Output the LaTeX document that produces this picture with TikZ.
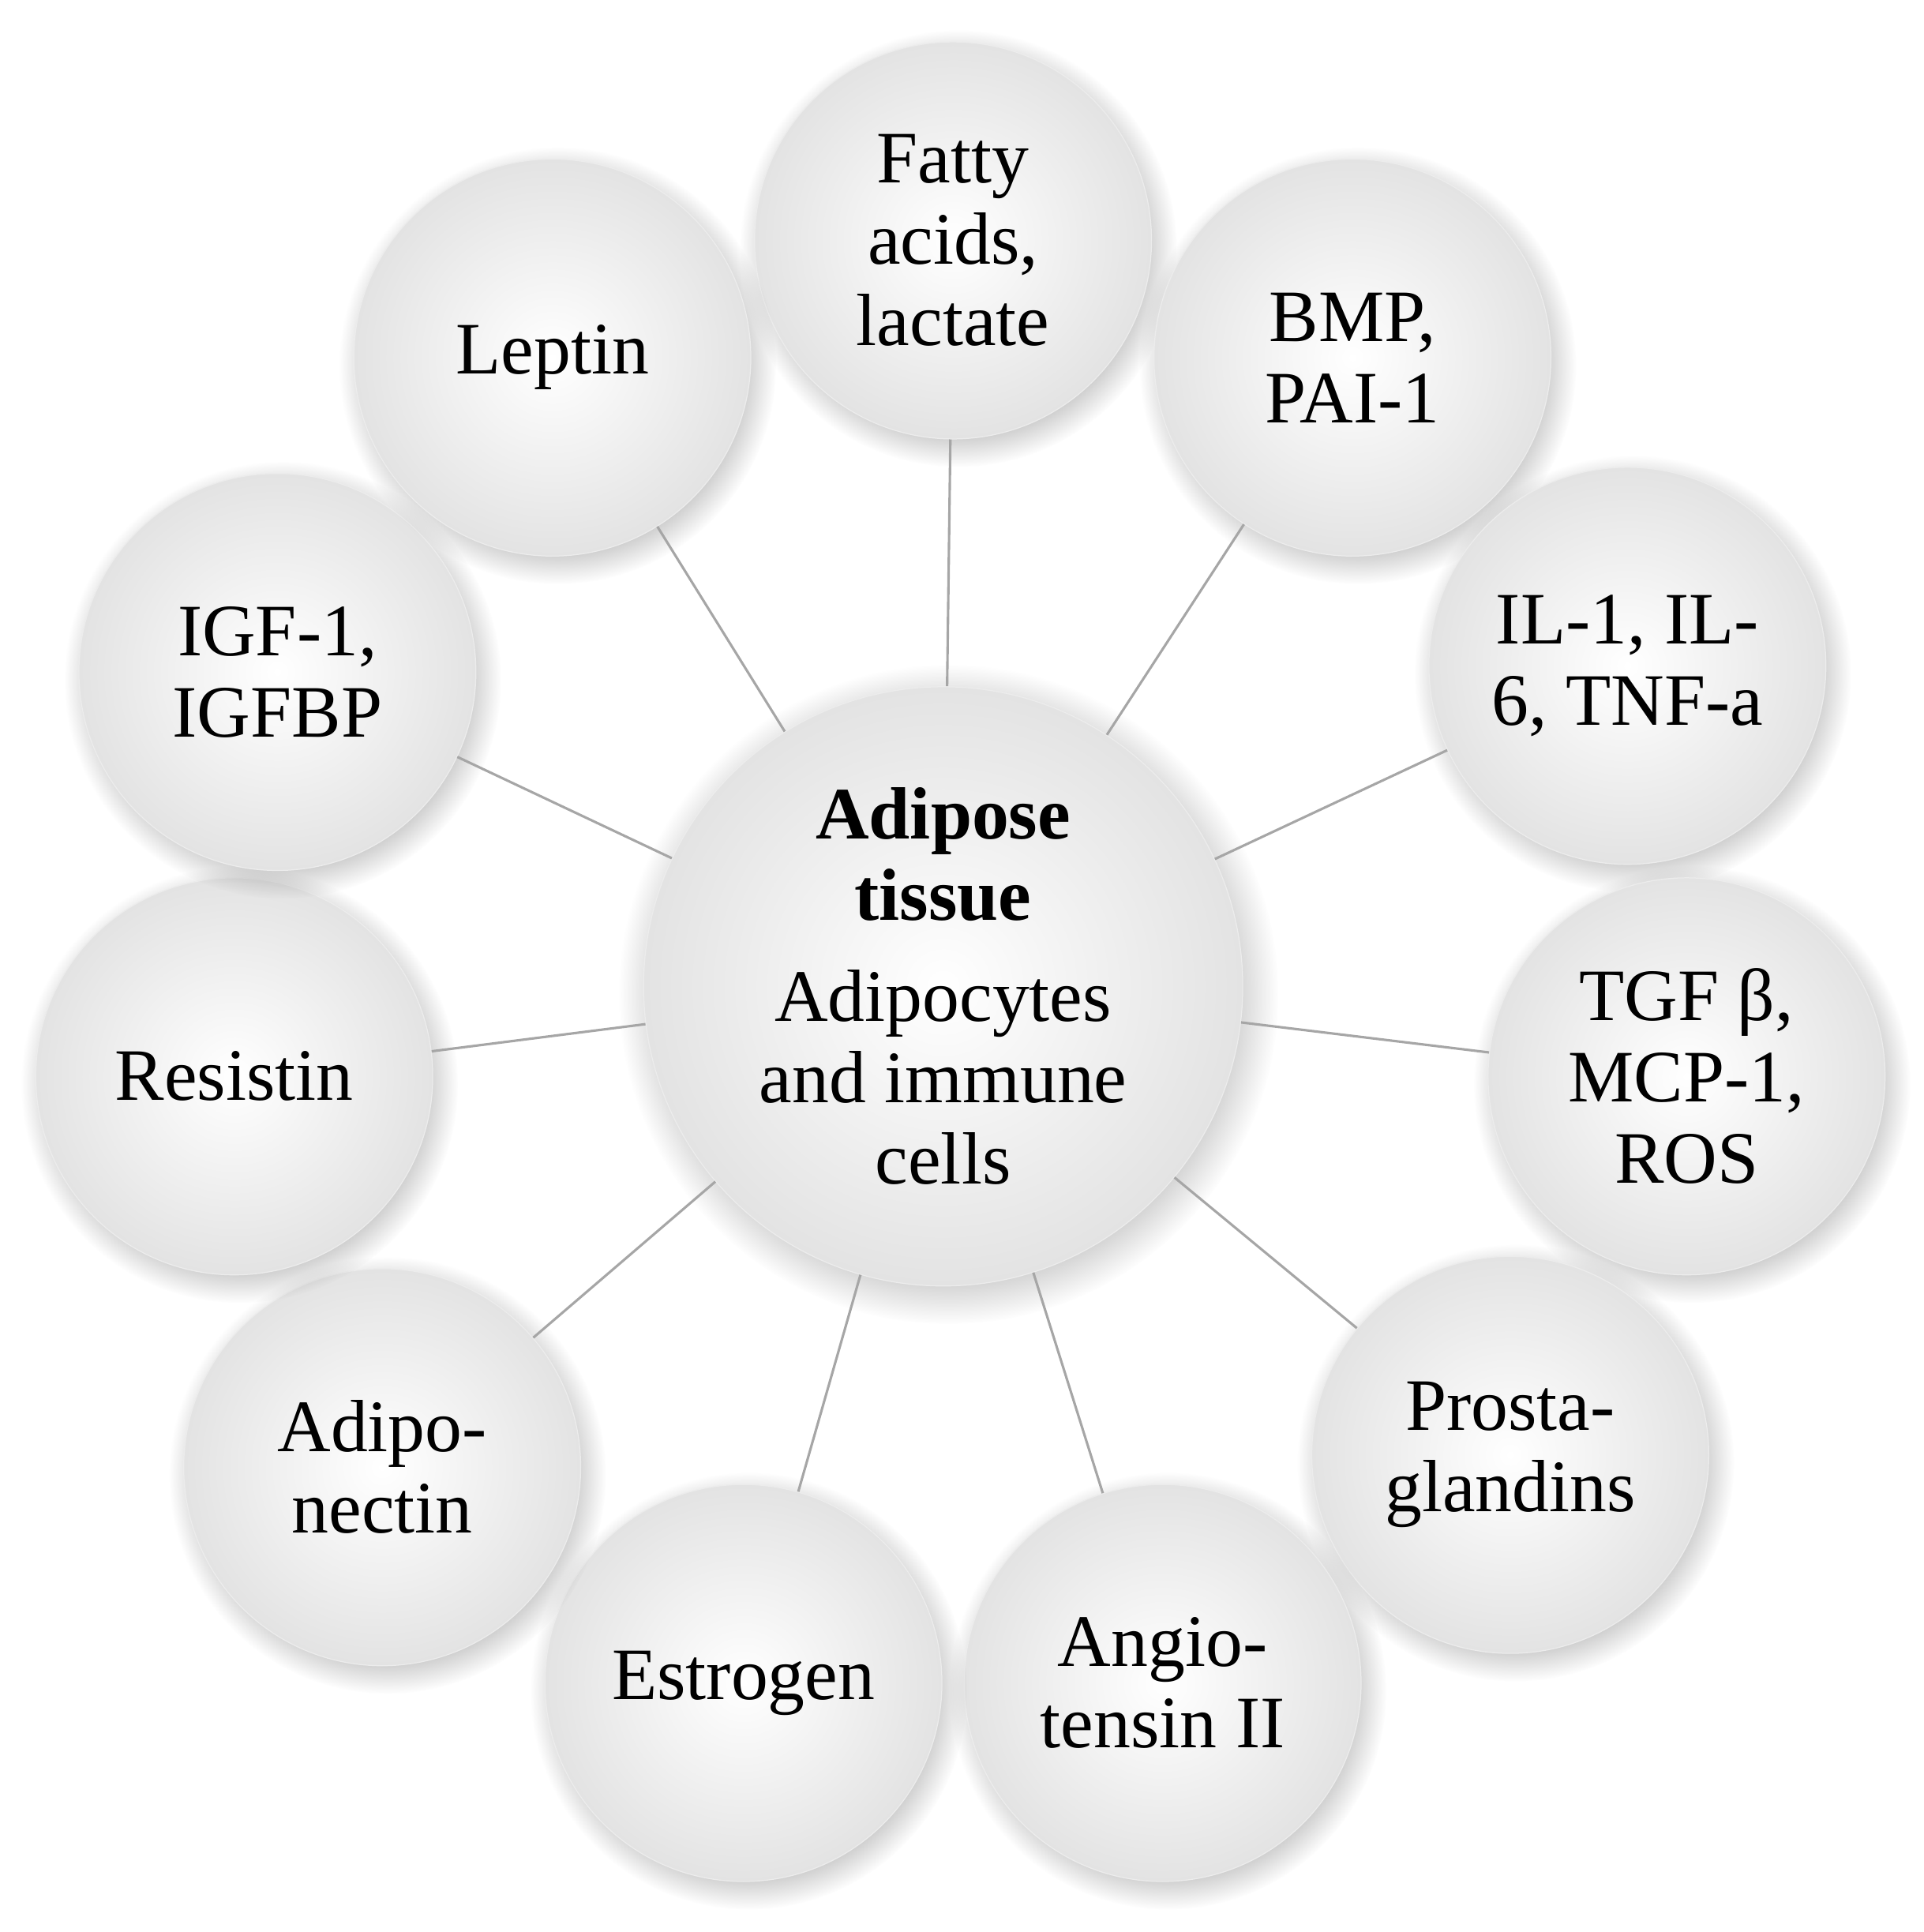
\documentclass[tikz,border=0pt]{standalone}
\usepackage{fontspec}
\setmainfont{Liberation Serif}
\usetikzlibrary{shadows}
\begin{document}
\begin{tikzpicture}[x=0.5pt,y=-0.5pt,
  ball/.style={circle,minimum size=#1*0.5pt,inner sep=0pt,align=center,font=\fontsize{30}{33}\selectfont,
    inner color=white,outer color=gray!22,draw=gray!15,
    circular drop shadow={shadow xshift=2pt,shadow yshift=-3pt,opacity=0.4,fill=gray}},
  conn/.style={draw=gray!70,line width=1pt}]
\useasboundingbox (0,0) rectangle (1560,1567);
\node[ball=486] (c) at (765,800) {\textbf{Adipose}\\\textbf{tissue}\\[8pt]Adipocytes\\and immune\\cells};
\foreach \n/\p/\t in {f/{773,195}/{Fatty\\acids,\\lactate},b/{1097,290}/{BMP,\\PAI-1},i/{1320,540}/{IL-1, IL-\\6, TNF-a},
 t/{1368,873}/{TGF β,\\MCP-1,\\ROS},p/{1225,1180}/{Prosta-\\glandins},a/{943,1365}/{Angio-\\tensin II},
 e/{603,1365}/{Estrogen},d/{310,1190}/{Adipo-\\nectin},r/{190,873}/{Resistin},g/{225,545}/{IGF-1,\\IGFBP},l/{448,290}/{Leptin}}
 {\node[ball=322] (\n) at (\p) {\t};}
\foreach \n in {f,b,i,t,p,a,e,d,r,g,l}{\draw[conn] (c) -- (\n);}
\end{tikzpicture}
\end{document}
